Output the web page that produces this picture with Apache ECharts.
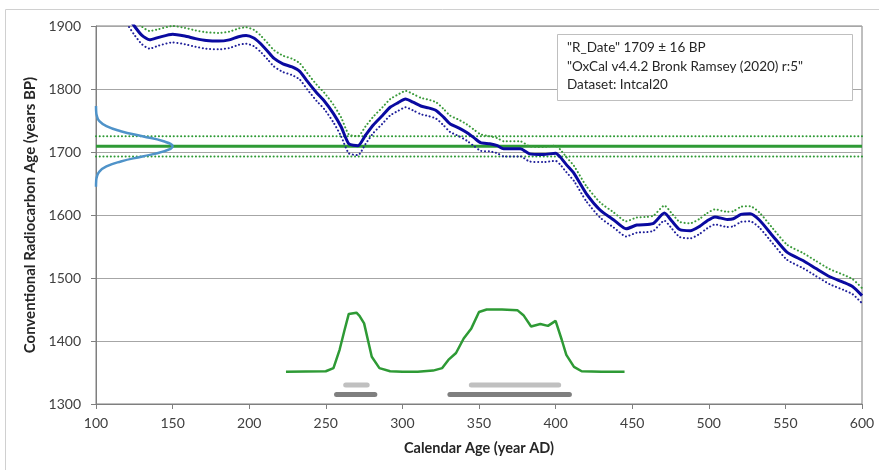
<!DOCTYPE html>
<html>
<head>
<meta charset="utf-8">
<title>Radiocarbon calibration</title>
<script src="https://cdn.jsdelivr.net/npm/echarts@6/dist/echarts.min.js"></script>
<style>
  html, body { margin: 0; padding: 0; background: #ffffff; }
  #chart { width: 879px; height: 470px; }
</style>
</head>
<body>
<div id="chart"></div>
<script>
// measured date
const rDate = 1709
const rSigma = 16

// calibration curve (IntCal20)
const calYear = [110, 120, 125, 130, 135, 141, 150, 158, 165, 172, 180, 187, 193, 198, 203, 207, 212, 216, 222, 228,
  233, 238, 244, 249, 255, 260, 265, 271, 276, 281, 287, 292, 297, 302, 307, 312, 317, 322, 327, 331,
  337, 342, 347, 351, 357, 362, 366, 377, 383, 392, 400, 403, 407, 412, 420, 429, 438, 446, 453, 460,
  464, 471, 476, 481, 488, 494, 499, 504, 512, 516, 521, 527, 533, 542, 551, 562, 570, 579, 588, 594, 600]
const calBP = [1950, 1918, 1900, 1885, 1878, 1882, 1887, 1884, 1880, 1877, 1876, 1878, 1883, 1885, 1881, 1873, 1860, 1849, 1840, 1835,
  1828, 1812, 1794, 1781, 1761, 1740, 1713, 1710, 1727, 1743, 1758, 1771, 1778, 1784, 1779, 1773, 1770, 1766, 1755, 1745,
  1738, 1731, 1722, 1715, 1713, 1710, 1705, 1705, 1697, 1696, 1698, 1692, 1680, 1666, 1634, 1608, 1592, 1578, 1584, 1585,
  1587, 1603, 1590, 1577, 1575, 1582, 1591, 1597, 1593, 1594, 1601, 1602, 1592, 1566, 1541, 1527, 1515, 1502, 1493, 1486, 1472]
const calSigma = [14, 14, 14, 14, 14, 13, 13, 13, 13, 13, 13, 13, 13, 13, 13, 13, 13, 13, 13, 13,
  13, 13, 13, 13, 14, 15, 15, 15, 14, 13, 13, 13, 13, 13, 13, 13, 13, 13, 13, 13,
  13, 13, 13, 13, 12, 12, 12, 12, 12, 12, 12, 12, 12, 12, 12, 12, 12, 12, 12, 12,
  12, 12, 12, 12, 12, 12, 12, 12, 12, 12, 12, 12, 12, 12, 12, 12, 12, 12, 12, 12, 12]

// probability of the measured date (drawn along the y axis)
const gaussBP = [1645, 1653, 1661, 1669, 1677, 1685, 1693, 1701, 1709, 1717, 1725, 1733, 1741, 1749, 1757, 1765, 1773]
const gaussX = [100.0, 100.1, 100.6, 102.2, 106.8, 116.2, 130.3, 144.1, 150.0, 144.1, 130.3, 116.2, 106.8, 102.2, 100.6, 100.1, 100.0]

// calibrated probability (drawn along the x axis)
const probYear = [224, 250, 255, 259, 262, 265, 270, 272, 275, 280, 285, 292, 300, 310, 320, 326, 330, 335, 340, 345,
  350, 355, 365, 375, 379, 384, 390, 395, 400, 404, 407, 412, 417, 430, 445]
const probBP = [1351, 1352, 1357, 1386, 1415, 1443, 1445, 1440, 1428, 1375, 1357, 1352, 1351, 1351, 1353, 1357, 1370, 1381, 1404, 1420,
  1446, 1450, 1450, 1449, 1441, 1423, 1427, 1424, 1432, 1402, 1378, 1359, 1352, 1351, 1351]

// calibrated ranges: [from, to]
const range68 = [[263, 277], [345, 402]]
const range95 = [[257, 282], [331, 409]]
const range68Y = 1330
const range95Y = 1315

const legendLines = [
  '"R_Date" 1709 ± 16 BP',
  '"OxCal v4.4.2 Bronk Ramsey (2020) r:5"',
  'Dataset: Intcal20',
]

const FONT = 'Lato, "Open Sans", sans-serif'
const dots = [0.1, 3.6]

function pairs(xs, ys) {
  return xs.map((x, i) => [x, ys[i]])
}

function rangeSeries(ranges, y, color) {
  return ranges.map((r) => ({
    type: 'line',
    data: [[r[0], y], [r[1], y]],
    symbol: 'none',
    silent: true,
    z: 3,
    lineStyle: { color: color, width: 5, cap: 'round' },
  }))
}

function hLine(y, dashed) {
  return {
    type: 'line',
    data: [[100, y], [600, y]],
    symbol: 'none',
    silent: true,
    z: 2,
    lineStyle: dashed
      ? { color: '#2e9a35', width: 2, type: dots, cap: 'round' }
      : { color: '#2e9a35', width: 3 },
  }
}

const chart = echarts.init(document.getElementById('chart'))

chart.setOption({
  animation: false,
  grid: { left: 96, right: 17, top: 26, bottom: 66, show: true, borderColor: '#7f7f7f', borderWidth: 1 },
  xAxis: {
    type: 'value',
    min: 100,
    max: 600,
    interval: 50,
    name: 'Calendar Age (year AD)',
    nameLocation: 'middle',
    nameGap: 37,
    nameTextStyle: { fontFamily: FONT, fontSize: 14.5, fontWeight: 'bold', color: '#262626' },
    axisLine: { lineStyle: { color: '#7f7f7f' } },
    axisTick: { show: true, length: 5, lineStyle: { color: '#7f7f7f' } },
    axisLabel: { fontFamily: FONT, fontSize: 14, color: '#404040', margin: 12 },
    splitLine: { show: false },
  },
  yAxis: {
    type: 'value',
    min: 1300,
    max: 1900,
    interval: 100,
    name: 'Conventional Radiocarbon Age (years BP)',
    nameLocation: 'middle',
    nameGap: 50,
    nameTextStyle: { fontFamily: FONT, fontSize: 15, fontWeight: 'bold', color: '#262626' },
    axisLine: { show: true, lineStyle: { color: '#7f7f7f' } },
    axisTick: { show: true, length: 5, lineStyle: { color: '#7f7f7f' } },
    axisLabel: { fontFamily: FONT, fontSize: 14, color: '#404040', margin: 15, formatter: (v) => String(v) },
    splitLine: { lineStyle: { color: '#a6a6a6', width: 1 } },
  },
  graphic: [
    {
      type: 'rect',
      shape: { x: 5.5, y: 9.5, width: 890, height: 480 },
      style: { fill: null, stroke: '#d0d0d0', lineWidth: 1 },
      silent: true,
    },
    {
      type: 'rect',
      shape: { x: 557.5, y: 34.5, width: 295, height: 66 },
      style: { fill: '#ffffff', stroke: '#bfbfbf', lineWidth: 1 },
      z: 100,
      silent: true,
    },
    ...legendLines.map((line, i) => ({
      type: 'text',
      left: 567,
      top: 41 + i * 18.5,
      z: 101,
      silent: true,
      style: { text: line, font: '13.5px ' + FONT, fill: '#262626' },
    })),
  ],
  series: [
    hLine(rDate + rSigma, true),
    hLine(rDate, false),
    hLine(rDate - rSigma, true),
    {
      // probability of the measured date
      type: 'line',
      data: pairs(gaussX, gaussBP),
      symbol: 'none',
      smooth: true,
      z: 4,
      lineStyle: { color: '#4f93c9', width: 2.5 },
    },
    {
      // calibrated probability
      type: 'line',
      data: pairs(probYear, probBP),
      symbol: 'none',
      z: 4,
      lineStyle: { color: '#2e9a35', width: 2.5 },
    },
    ...rangeSeries(range95, range95Y, '#7f7f7f'),
    ...rangeSeries(range68, range68Y, '#c0c0c0'),
    {
      // curve + 1 sigma
      type: 'line',
      data: calYear.map((x, i) => [x, calBP[i] + calSigma[i]]),
      symbol: 'none',
      smooth: 0.2,
      z: 5,
      lineStyle: { color: '#3a9a3a', width: 2, type: dots, cap: 'round' },
    },
    {
      // curve - 1 sigma
      type: 'line',
      data: calYear.map((x, i) => [x, calBP[i] - calSigma[i]]),
      symbol: 'none',
      smooth: 0.2,
      z: 5,
      lineStyle: { color: '#1f1f9a', width: 2, type: dots, cap: 'round' },
    },
    {
      // calibration curve
      type: 'line',
      data: pairs(calYear, calBP),
      symbol: 'none',
      smooth: 0.2,
      z: 6,
      lineStyle: { color: '#0a0aa0', width: 3 },
    },
  ],
})
</script>
</body>
</html>
